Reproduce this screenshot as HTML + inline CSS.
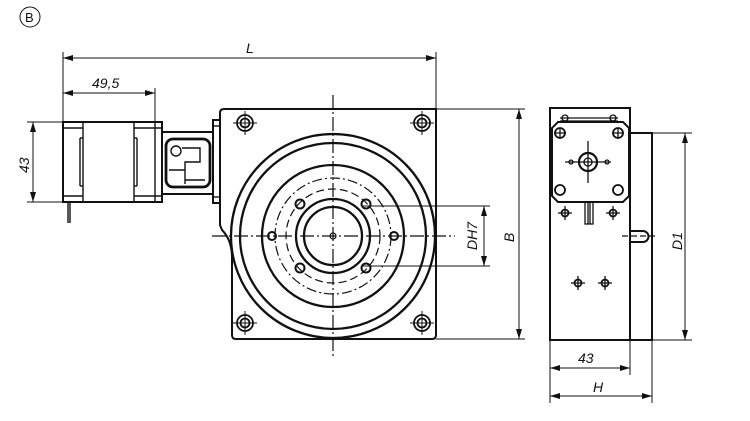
<!DOCTYPE html>
<html><head><meta charset="utf-8"><style>
html,body{margin:0;padding:0;background:#fff;}
svg{display:block}
text{font-family:"Liberation Sans",sans-serif;font-style:italic;fill:#111}
</style></head><body>
<svg width="750" height="421" viewBox="0 0 750 421" xmlns="http://www.w3.org/2000/svg">
<defs>
<marker id="a" viewBox="0 0 10 6" refX="10" refY="3" markerWidth="11" markerHeight="6" orient="auto-start-reverse" markerUnits="userSpaceOnUse"><path d="M0,0L10,3L0,6z" fill="#111"/></marker>
</defs>
<g fill="none" stroke="#111">
<circle cx="30" cy="17" r="10" stroke-width="1"/>
<g stroke-width="1">
<line x1="63" y1="52" x2="63" y2="122"/><line x1="436" y1="52" x2="436" y2="109"/>
<line x1="63" y1="58" x2="436" y2="58" marker-start="url(#a)" marker-end="url(#a)"/>
<line x1="155" y1="88" x2="155" y2="122"/>
<line x1="63" y1="93" x2="155" y2="93" marker-start="url(#a)" marker-end="url(#a)"/>
<line x1="27" y1="122" x2="63" y2="122"/><line x1="27" y1="202" x2="63" y2="202"/>
<line x1="33" y1="122" x2="33" y2="202" marker-start="url(#a)" marker-end="url(#a)"/>
<line x1="436" y1="109" x2="525" y2="109"/><line x1="436" y1="339" x2="525" y2="339"/>
<line x1="519" y1="109" x2="519" y2="339" marker-start="url(#a)" marker-end="url(#a)"/>
<line x1="363" y1="206" x2="490" y2="206"/><line x1="363" y1="266" x2="490" y2="266"/>
<line x1="484" y1="206" x2="484" y2="266" marker-start="url(#a)" marker-end="url(#a)"/>
<line x1="652" y1="133" x2="692" y2="133"/><line x1="652" y1="340" x2="692" y2="340"/>
<line x1="685" y1="133" x2="685" y2="340" marker-start="url(#a)" marker-end="url(#a)"/>
<line x1="550" y1="340" x2="550" y2="403"/><line x1="630" y1="340" x2="630" y2="375"/><line x1="652" y1="340" x2="652" y2="403"/>
<line x1="550" y1="368" x2="630" y2="368" marker-start="url(#a)" marker-end="url(#a)"/>
<line x1="550" y1="396" x2="652" y2="396" marker-start="url(#a)" marker-end="url(#a)"/>
</g>
<g stroke-width="2">
<rect x="63" y="122" width="99" height="80"/>
<rect x="162" y="132" width="51" height="62"/>
<rect x="166" y="139" width="44" height="48" rx="7" stroke-width="2.8"/>
<rect x="213" y="120" width="7" height="83"/>
<path d="M220,113Q220,109 224,109L436,109L436,335Q436,339 432,339L236,339Q232,339 232,335L232,258Q232,240 222,230L220,225Z"/>
</g>
<g stroke-width="1.4">
<line x1="63" y1="128" x2="83" y2="128"/><line x1="63" y1="196" x2="83" y2="196"/>
<line x1="83" y1="122" x2="83" y2="202"/><line x1="80" y1="138" x2="80" y2="186"/><line x1="80" y1="138" x2="83" y2="138"/><line x1="80" y1="186" x2="83" y2="186"/>
<line x1="134" y1="122" x2="134" y2="202"/><line x1="137" y1="138" x2="137" y2="186"/><line x1="134" y1="138" x2="137" y2="138"/><line x1="134" y1="186" x2="137" y2="186"/>
<line x1="134" y1="128" x2="162" y2="128"/><line x1="134" y1="196" x2="162" y2="196"/>
<line x1="155" y1="122" x2="155" y2="202"/>
<line x1="68" y1="202" x2="68" y2="223"/><line x1="70" y1="202" x2="70" y2="223"/>
<line x1="213" y1="126" x2="220" y2="126"/><line x1="213" y1="197" x2="220" y2="197"/>
<circle cx="176" cy="151" r="5"/>
<path d="M182,148H200V162H185V184M169,170H185M185,162H190M185,180H205"/>
</g>
<g stroke-width="2.3">
<circle cx="333" cy="236" r="102"/><circle cx="333" cy="236" r="93"/>
<circle cx="333" cy="236" r="71"/><circle cx="333" cy="236" r="37"/><circle cx="333" cy="236" r="29"/>
</g>
<g stroke-width="1.2">
<circle cx="333" cy="236" r="58" stroke-dasharray="10,3,2,3"/>
<circle cx="333" cy="236" r="47" stroke-dasharray="8,4"/>
<circle cx="333" cy="236" r="3"/>
<line x1="333" y1="95" x2="333" y2="358" stroke-dasharray="14,3,2,3"/>
<line x1="212" y1="236" x2="455" y2="236" stroke-dasharray="14,3,2,3"/>
<circle cx="300" cy="204" r="4.5" stroke-width="2"/><circle cx="366" cy="204" r="4.5" stroke-width="2"/>
<circle cx="300" cy="268" r="4.5" stroke-width="2"/><circle cx="366" cy="268" r="4.5" stroke-width="2"/>
<circle cx="272" cy="236" r="4" stroke-width="2"/><circle cx="394" cy="236" r="4" stroke-width="2"/>
<g stroke-width="1.8">
<circle cx="245" cy="123" r="8"/><circle cx="245" cy="123" r="4.5"/>
<circle cx="422" cy="123" r="8"/><circle cx="422" cy="123" r="4.5"/>
<circle cx="245" cy="323" r="8"/><circle cx="245" cy="323" r="4.5"/>
<circle cx="422" cy="323" r="8"/><circle cx="422" cy="323" r="4.5"/>
</g>
<path d="M233,123h24M245,111v24M410,123h24M422,111v24M233,323h24M245,311v24M410,323h24M422,311v24" stroke-width="1"/>
</g>
<g stroke-width="2">
<rect x="550" y="108" width="80" height="232"/>
<rect x="630" y="133" width="22" height="207"/>
<path d="M558,122H623L629,128V196L623,202H558L552,196V128Z"/>
<path d="M630,231H643A5.5,5.5 0 0 1 643,242H630"/>
</g>
<g stroke-width="1.3">
<line x1="560" y1="118" x2="618" y2="118"/><line x1="560" y1="121" x2="618" y2="121"/>
<circle cx="565" cy="118" r="3"/><circle cx="613" cy="118" r="3"/>
<circle cx="560" cy="133" r="5" stroke-width="1.8"/><circle cx="618" cy="133" r="5" stroke-width="1.8"/>
<circle cx="560" cy="190" r="5" stroke-width="1.8"/><circle cx="618" cy="190" r="5" stroke-width="1.8"/>
<circle cx="588" cy="162" r="9" stroke-width="2.2"/><circle cx="588" cy="162" r="4"/>
<circle cx="571" cy="162" r="2"/><circle cx="607" cy="162" r="2"/>
<path d="M565,162h46M588,141v42M554,133h12M612,133h12M560,128v10M618,128v10"/>
<rect x="585" y="202" width="8" height="22"/>
<line x1="588" y1="202" x2="588" y2="224"/><line x1="590" y1="202" x2="590" y2="224"/>
<circle cx="565" cy="213" r="3.5" stroke-width="1.8"/><circle cx="613" cy="213" r="3.5" stroke-width="1.8"/>
<circle cx="578" cy="283" r="3.5" stroke-width="1.8"/><circle cx="605" cy="283" r="3.5" stroke-width="1.8"/>
<path d="M558,213h14M565,206v14M606,213h14M613,206v14M571,283h14M578,276v14M598,283h14M605,276v14"/>
<line x1="622" y1="236" x2="656" y2="236" stroke-dasharray="6,3"/>
</g>
</g>
<g font-size="14">
<text x="25" y="22" style="font-style:normal" font-size="13">B</text>
<text x="246" y="53">L</text>
<text x="92" y="88">49,5</text>
<text x="578" y="363">43</text>
<text x="593" y="392">H</text>
<text transform="translate(29,173) rotate(-90)">43</text>
<text transform="translate(514,242) rotate(-90)">B</text>
<text transform="translate(477,250) rotate(-90)">DH7</text>
<text transform="translate(682,250) rotate(-90)">D1</text>
</g>
</svg>
</body></html>
